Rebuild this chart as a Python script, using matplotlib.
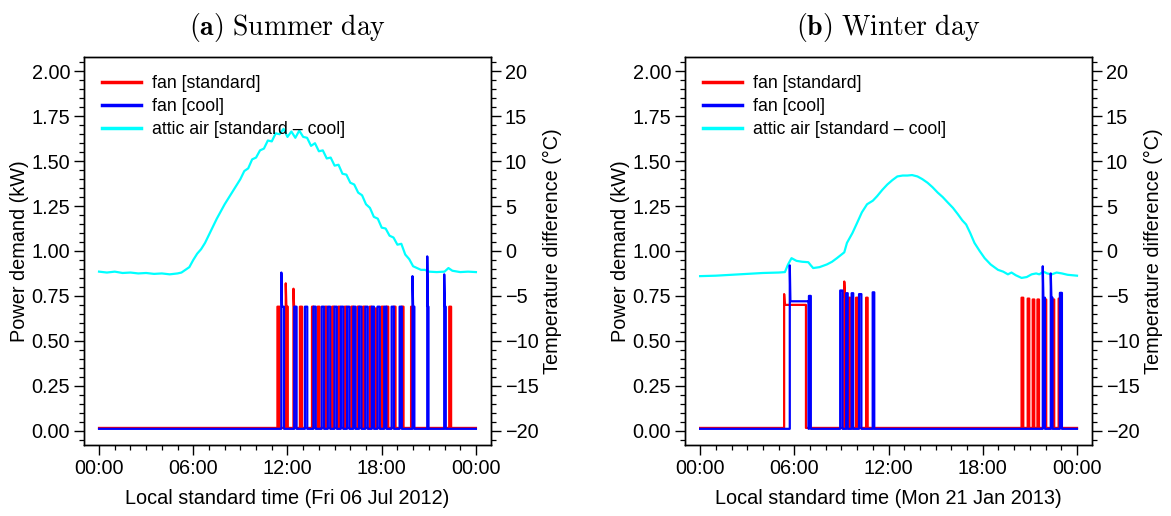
import matplotlib
matplotlib.use("Agg")
import matplotlib.pyplot as plt
from matplotlib.lines import Line2D
from matplotlib.ticker import MultipleLocator, FixedLocator, FixedFormatter, FormatStrFormatter
import numpy as np

plt.rcParams["font.family"] = ["Liberation Sans", "DejaVu Sans"]
plt.rcParams["mathtext.fontset"] = "cm"

# --------------------------------------------------------------------------- #
#  Datos (horas locales, kW y grados C)                                       #
# --------------------------------------------------------------------------- #
# diferencia de temperatura del aire del atico [standard - cool], dia de verano
verano_t = [0, 0.5, 1, 1.5, 2, 2.5, 3, 3.5, 4, 4.5, 5, 5.25, 5.5, 5.75, 6,
            6.25, 6.5, 6.75, 7, 7.25, 7.5, 7.75, 8, 8.25, 8.5, 8.75, 9, 9.25,
            9.5, 9.75, 10, 10.25, 10.5, 10.75, 11, 11.25, 11.5, 11.75, 12,
            12.25, 12.5, 12.75, 13, 13.25, 13.5, 13.75, 14, 14.25, 14.5,
            14.75, 15, 15.25, 15.5, 15.75, 16, 16.25, 16.5, 16.75, 17, 17.25,
            17.5, 17.75, 18, 18.25, 18.5, 18.75, 19, 19.25, 19.5, 19.75, 20,
            20.25, 20.5, 20.75, 21, 21.5, 22, 22.25, 22.5, 23, 23.5, 24]
verano_aire = [-2.3, -2.4, -2.3, -2.45, -2.4, -2.5, -2.45, -2.55, -2.5, -2.6,
               -2.5, -2.4, -2.1, -1.8, -1.0, -0.3, 0.2, 0.9, 1.8, 2.7, 3.6,
               4.4, 5.2, 5.9, 6.6, 7.3, 8.0, 8.9, 9.2, 10.2, 10.4, 11.2, 11.4,
               12.3, 12.2, 13.1, 13.0, 13.6, 12.7, 13.3, 12.6, 13.4, 12.7,
               12.6, 11.7, 12.0, 11.1, 11.2, 10.3, 10.4, 9.5, 9.6, 8.6, 8.5,
               7.6, 7.4, 6.5, 6.2, 5.2, 4.8, 3.8, 3.6, 2.6, 2.5, 1.7, 1.5, 0.7,
               0.8, -0.4, -0.9, -1.7, -1.9, -2.1, -2.1, -2.3, -2.35, -2.3,
               -1.9, -2.2, -2.35, -2.3, -2.35]

# dia de invierno
invierno_t = [0, 1, 2, 3, 4, 5, 5.4, 5.6, 5.82, 6.14, 6.5, 6.89, 7.05, 7.2,
              7.6, 8.07, 8.4, 8.71, 9.0, 9.18, 9.35, 9.7, 9.99, 10.3, 10.63,
              11.0, 11.27, 11.6, 11.92, 12.25, 12.56, 12.9, 13.2, 13.5, 13.84,
              14.15, 14.48, 14.8, 15.13, 15.45, 15.77, 16.1, 16.41, 16.7,
              16.94, 17.2, 17.47, 17.8, 18.12, 18.5, 18.97, 19.3, 19.6, 19.83,
              20.1, 20.47, 20.8, 21.11, 21.4, 21.6, 21.86, 22.1, 22.4, 22.7,
              23.04, 23.4, 23.7, 24]
invierno_aire = [-2.8, -2.75, -2.65, -2.55, -2.45, -2.4, -2.35, -1.5, -0.8,
                 -1.1, -1.2, -1.25, -1.6, -1.9, -1.8, -1.5, -1.2, -0.8, -0.4,
                 -0.15, 0.9, 2.0, 3.1, 4.3, 5.2, 5.6, 6.1, 6.8, 7.4, 7.9, 8.3,
                 8.4, 8.4, 8.45, 8.3, 8.0, 7.6, 7.1, 6.5, 6.0, 5.4, 4.8, 4.1,
                 3.4, 2.95, 2.0, 0.9, 0.0, -0.8, -1.5, -2.1, -2.3, -2.6, -2.4,
                 -2.7, -3.0, -2.9, -2.6, -2.5, -2.6, -2.3, -2.5, -2.6, -2.4,
                 -2.5, -2.65, -2.7, -2.75]

# ciclos del ventilador: (encendido, apagado, pico, nivel) en horas y kW
verano_rojo = [(11.36, 11.50, 0.69, 0.69), (11.89, 12.02, 0.82, 0.69),
               (12.38, 12.47, 0.79, 0.69), (12.79, 12.93, 0.69, 0.69),
               (13.56, 13.67, 0.69, 0.69), (13.92, 14.04, 0.69, 0.69),
               (14.40, 14.50, 0.69, 0.69), (14.84, 14.95, 0.69, 0.69),
               (15.23, 15.35, 0.69, 0.69), (15.64, 15.75, 0.69, 0.69),
               (16.06, 16.17, 0.69, 0.69), (16.45, 16.56, 0.69, 0.69),
               (16.81, 16.92, 0.69, 0.69), (17.24, 17.34, 0.69, 0.69),
               (17.60, 17.70, 0.68, 0.68), (17.99, 18.10, 0.69, 0.69),
               (18.31, 18.42, 0.69, 0.69), (18.78, 18.88, 0.69, 0.69),
               (19.29, 19.39, 0.69, 0.69), (19.87, 19.97, 0.69, 0.69),
               (22.30, 22.42, 0.69, 0.69)]
verano_azul = [(11.61, 11.78, 0.88, 0.69), (12.43, 12.58, 0.69, 0.69),
               (13.11, 13.26, 0.69, 0.69), (13.65, 13.80, 0.69, 0.69),
               (14.18, 14.33, 0.69, 0.69), (14.57, 14.72, 0.69, 0.69),
               (14.99, 15.14, 0.69, 0.69), (15.40, 15.55, 0.69, 0.69),
               (15.79, 15.94, 0.69, 0.69), (16.19, 16.33, 0.69, 0.69),
               (16.56, 16.71, 0.69, 0.69), (16.96, 17.11, 0.69, 0.69),
               (17.37, 17.51, 0.69, 0.69), (17.73, 17.88, 0.69, 0.69),
               (18.16, 18.30, 0.69, 0.69), (18.63, 18.78, 0.69, 0.69),
               (19.14, 19.28, 0.69, 0.69), (19.96, 20.08, 0.86, 0.69),
               (20.90, 20.98, 0.97, 0.69), (21.98, 22.08, 0.87, 0.69)]

invierno_rojo = [(5.35, 6.74, 0.76, 0.70), (9.18, 9.28, 0.83, 0.74),
                 (9.45, 9.57, 0.74, 0.74), (9.93, 10.03, 0.74, 0.74),
                 (10.57, 10.67, 0.74, 0.74), (20.47, 20.58, 0.74, 0.74),
                 (20.86, 20.96, 0.735, 0.735), (21.18, 21.28, 0.73, 0.73),
                 (21.48, 21.58, 0.73, 0.73), (21.95, 22.04, 0.73, 0.73),
                 (22.46, 22.55, 0.73, 0.73), (22.83, 22.91, 0.735, 0.735)]
invierno_azul = [(5.71, 6.91, 0.92, 0.72), (6.93, 7.05, 0.75, 0.75),
                 (8.92, 9.07, 0.78, 0.78), (9.30, 9.40, 0.765, 0.765),
                 (9.65, 9.75, 0.765, 0.765), (10.12, 10.27, 0.76, 0.76),
                 (10.99, 11.09, 0.77, 0.77), (21.82, 21.96, 0.915, 0.74),
                 (22.33, 22.44, 0.875, 0.74), (22.91, 23.04, 0.767, 0.767)]

base_rojo = 0.015
base_azul = 0.010

horas_major = [0, 6, 12, 18, 24]
etiquetas_horas = ["00:00", "06:00", "12:00", "18:00", "00:00"]

FS = 14.3


def serie_pulsos(pulsos, base):
    """Convierte la lista de ciclos en una serie escalonada."""
    t, p = [0.0], [base]
    for ini, fin, pico, nivel in pulsos:
        caida = ini + min(0.04, (fin - ini) / 2)
        t += [ini, ini, caida, fin, fin]
        p += [base, pico, nivel, nivel, base]
    t.append(24.0)
    p.append(base)
    return np.array(t), np.array(p)


def panel(ax, titulo, xlabel, t_aire, d_aire, rojo, azul):
    ax2 = ax.twinx()
    ax2.plot(t_aire, d_aire, color="cyan", lw=1.6)
    tr, pr = serie_pulsos(rojo, base_rojo)
    tb, pb = serie_pulsos(azul, base_azul)
    ax.plot(tr, pr, color="red", lw=1.6)
    ax.plot(tb, pb, color="blue", lw=1.6)
    ax.set_zorder(ax2.get_zorder() + 1)
    ax.patch.set_visible(False)

    ax.set_xlim(-0.96, 24.96)
    ax.set_ylim(-0.08, 2.08)
    ax2.set_ylim(-21.6, 21.6)

    ax.xaxis.set_major_locator(FixedLocator(horas_major))
    ax.xaxis.set_major_formatter(FixedFormatter(etiquetas_horas))
    ax.xaxis.set_minor_locator(MultipleLocator(1))
    ax.yaxis.set_major_locator(MultipleLocator(0.25))
    ax.yaxis.set_major_formatter(FormatStrFormatter("%.2f"))
    ax.yaxis.set_minor_locator(MultipleLocator(0.05))
    ax2.yaxis.set_major_locator(MultipleLocator(5))
    ax2.yaxis.set_minor_locator(MultipleLocator(1))

    for a in (ax, ax2):
        a.tick_params(which="major", direction="out", length=7, width=1,
                      labelsize=FS, pad=3)
        a.tick_params(which="minor", direction="out", length=3.5, width=0.9)
        for s in a.spines.values():
            s.set_linewidth(1.0)

    ax.set_ylabel("Power demand (kW)", fontsize=FS, labelpad=2)
    ax2.set_ylabel("Temperature difference (°C)", fontsize=FS, labelpad=3)
    ax.set_xlabel(xlabel, fontsize=FS, labelpad=8)
    ax.set_title(titulo, fontsize=20, pad=16)

    leyenda = [
        Line2D([], [], color="red", lw=2.5, label="fan [standard]"),
        Line2D([], [], color="blue", lw=2.5, label="fan [cool]"),
        Line2D([], [], color="cyan", lw=2.5, label="attic air [standard \u2013 cool]"),
    ]
    ax.legend(handles=leyenda, loc="upper left", frameon=False, fontsize=12.8,
              handlelength=2.2, handletextpad=0.6, labelspacing=0.35,
              borderaxespad=0.6)


fig = plt.figure(figsize=(11.71, 5.16), dpi=100)
ax_a = fig.add_axes([0.0717, 0.1376, 0.3476, 0.752])
ax_b = fig.add_axes([0.585, 0.1376, 0.3476, 0.752])

panel(ax_a, r"$\mathbf{(a)}\ \mathrm{Summer\ day}$",
      "Local standard time (Fri 06 Jul 2012)",
      verano_t, verano_aire, verano_rojo, verano_azul)
panel(ax_b, r"$\mathbf{(b)}\ \mathrm{Winter\ day}$",
      "Local standard time (Mon 21 Jan 2013)",
      invierno_t, invierno_aire, invierno_rojo, invierno_azul)

fig.savefig("out.png", dpi=100)
plt.close(fig)
